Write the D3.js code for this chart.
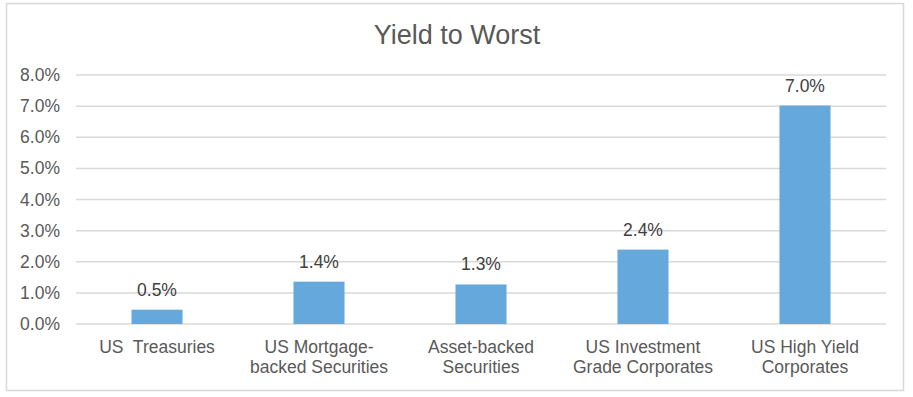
<!DOCTYPE html>
<meta charset="utf-8">
<style>
body { margin: 0; background: #fff; }
text { font-family: "Liberation Sans", Arial, sans-serif; fill: #595959; }
.grid line { stroke: #d9d9d9; stroke-width: 1.5px; }
.bar { fill: #64a8dc; }
.label { font-size: 17.5px; fill: #404040; }
</style>
<body>
<script src="https://cdn.jsdelivr.net/npm/d3@7"></script>
<script>

var categories = [
  ["US  Treasuries"],
  ["US Mortgage-", "backed Securities"],
  ["Asset-backed", "Securities"],
  ["US Investment", "Grade Corporates"],
  ["US High Yield", "Corporates"]
];
var yields = [0.0046, 0.0136, 0.0127, 0.0239, 0.0702];
var yTicks = [0, 0.01, 0.02, 0.03, 0.04, 0.05, 0.06, 0.07, 0.08];

var width = 913, height = 397;
var margin = {top: 75, right: 27, bottom: 73, left: 76};

var svg = d3.select("body").append("svg")
    .attr("width", width)
    .attr("height", height);

// chart frame
svg.append("rect")
    .attr("x", 6.5).attr("y", 3.5)
    .attr("width", 897).attr("height", 387)
    .attr("fill", "#fff")
    .attr("stroke", "#d9d9d9")
    .attr("stroke-width", 1.5);

svg.append("text")
    .attr("x", 457).attr("y", 44)
    .attr("text-anchor", "middle")
    .style("font-size", "27px")
    .text("Yield to Worst");

var x = d3.scaleBand()
    .domain(d3.range(categories.length))
    .range([margin.left, width - margin.right])
    .paddingInner(0.685)
    .paddingOuter(0.3425);

var y = d3.scaleLinear()
    .domain([0, 0.08])
    .range([height - margin.bottom, margin.top]);

var grid = svg.append("g").attr("class", "grid");
grid.selectAll("line")
  .data(yTicks)
  .enter().append("line")
    .attr("x1", margin.left)
    .attr("x2", width - margin.right)
    .attr("y1", function(d) { return y(d); })
    .attr("y2", function(d) { return y(d); });

var yAxis = d3.axisLeft(y)
    .tickValues(yTicks)
    .tickFormat(d3.format(".1%"))
    .tickSize(0)
    .tickPadding(16);

svg.append("g")
    .attr("transform", "translate(" + margin.left + ",0)")
    .call(yAxis)
    .call(function(g) { g.select(".domain").remove(); })
    .selectAll("text")
      .style("font-size", "17.5px")
      .style("fill", "#595959");

svg.selectAll(".bar")
  .data(yields)
  .enter().append("rect")
    .attr("class", "bar")
    .attr("x", function(d, i) { return x(i); })
    .attr("width", x.bandwidth())
    .attr("y", function(d) { return y(d); })
    .attr("height", function(d) { return y(0) - y(d); });

svg.selectAll(".label")
  .data(yields)
  .enter().append("text")
    .attr("class", "label")
    .attr("text-anchor", "middle")
    .attr("x", function(d, i) { return x(i) + x.bandwidth() / 2; })
    .attr("y", function(d) { return y(d) - 14; })
    .text(function(d) { return d3.format(".1%")(d); });

var cat = svg.selectAll(".cat")
  .data(categories)
  .enter().append("text")
    .attr("class", "cat")
    .attr("text-anchor", "middle")
    .style("font-size", "17.5px")
    .style("white-space", "pre")
    .attr("transform", function(d, i) {
      return "translate(" + (x(i) + x.bandwidth() / 2) + "," + (y(0) + 29) + ")";
    });

cat.selectAll("tspan")
  .data(function(d) { return d; })
  .enter().append("tspan")
    .attr("x", 0)
    .attr("y", function(d, i) { return i * 20; })
    .text(function(d) { return d; });

</script>
